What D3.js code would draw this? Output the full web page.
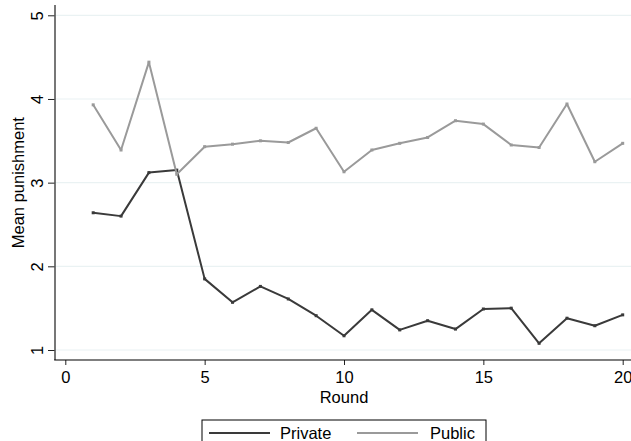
<!DOCTYPE html>
<html>
<head>
<meta charset="utf-8">
<script src="https://cdn.jsdelivr.net/npm/d3@7"></script>
<style>
  html, body { margin: 0; padding: 0; background: #fff; }
  svg { display: block; font-family: "Liberation Sans", Arial, Helvetica, sans-serif; }
</style>
</head>
<body>
<svg id="chart" width="631" height="441"></svg>
<script>
const rounds = [1,2,3,4,5,6,7,8,9,10,11,12,13,14,15,16,17,18,19,20];
const privateVals = [2.64,2.60,3.12,3.15,1.85,1.57,1.76,1.61,1.41,1.17,1.48,1.24,1.35,1.25,1.49,1.50,1.08,1.38,1.29,1.42];
const publicVals  = [3.93,3.39,4.44,3.10,3.43,3.46,3.50,3.48,3.65,3.13,3.39,3.47,3.54,3.74,3.70,3.45,3.42,3.94,3.25,3.47];
const xTicks = [0,5,10,15,20];
const yTicks = [1,2,3,4,5];
const seriesNames = ["Private","Public"];
const seriesColors = ["#3a3a3a","#9a9a9a"];

const svg = d3.select("#chart");
const W = 631, H = 441;
const axisX = 55, axisY = 360;
const FS = 16.5;

const x = d3.scaleLinear().domain([0,20]).range([65.3, 622.7]);
const y = d3.scaleLinear().domain([1,5]).range([350, 15.3]);

// gridlines
svg.append("g").selectAll("line").data(yTicks).join("line")
  .attr("x1", axisX).attr("x2", W)
  .attr("y1", d => y(d)).attr("y2", d => y(d))
  .attr("stroke", "#eaf2f3").attr("stroke-width", 1.2);

// y axis
const yAxis = d3.axisLeft(y).tickValues(yTicks).tickSize(7).tickFormat(d3.format("d"));
const gy = svg.append("g").attr("transform", `translate(${axisX},0)`).call(yAxis);
gy.select(".domain").remove();
gy.append("line").attr("x1",0).attr("x2",0).attr("y1",5).attr("y2",axisY)
  .attr("stroke","#555").attr("stroke-width",1.6);
gy.selectAll(".tick line").attr("stroke","#222").attr("stroke-width",1);
gy.selectAll(".tick text")
  .attr("font-size", FS).attr("fill","#000")
  .attr("text-anchor","middle")
  .attr("transform", "rotate(-90)")
  .attr("x", 0).attr("y", -12).attr("dy", 0);

// x axis
const xAxis = d3.axisBottom(x).tickValues(xTicks).tickSize(5).tickPadding(6).tickFormat(d3.format("d"));
const gx = svg.append("g").attr("transform", `translate(0,${axisY})`).call(xAxis);
gx.select(".domain").remove();
gx.append("line").attr("x1", axisX - 0.8).attr("x2", W).attr("y1",0).attr("y2",0)
  .attr("stroke","#000").attr("stroke-width",1.2);
gx.selectAll(".tick line").attr("stroke","#222").attr("stroke-width",1);
gx.selectAll(".tick text").attr("font-size", FS).attr("fill","#000");

// axis titles
svg.append("text").attr("x", (x(0)+x(20))/2).attr("y", 403)
  .attr("text-anchor","middle").attr("font-size",FS).attr("fill","#000").text("Round");
svg.append("text").attr("transform", `translate(24,${(y(1)+y(5))/2}) rotate(-90)`)
  .attr("text-anchor","middle").attr("font-size",FS).attr("fill","#000").text("Mean punishment");

// lines
const series = [privateVals, publicVals];
const line = d3.line().x((d,i) => x(rounds[i])).y(d => y(d));
series.forEach((vals, si) => {
  svg.append("path").datum(vals).attr("d", line)
    .attr("fill","none").attr("stroke", seriesColors[si]).attr("stroke-width", 2)
    .attr("stroke-linejoin","round");
  svg.append("g").selectAll("rect").data(vals).join("rect")
    .attr("x", (d,i) => x(rounds[i]) - 1.5).attr("y", d => y(d) - 1.5)
    .attr("width", 3).attr("height", 3).attr("fill", seriesColors[si]);
});

// legend
const lg = svg.append("g");
lg.append("rect").attr("x", 202).attr("y", 420).attr("width", 284).attr("height", 40)
  .attr("fill","#fff").attr("stroke","#000").attr("stroke-width",1);
const legItems = [{x0: 209, x1: 270, tx: 280}, {x0: 357, x1: 418, tx: 430}];
legItems.forEach((it, i) => {
  lg.append("line").attr("x1", it.x0).attr("x2", it.x1).attr("y1", 433).attr("y2", 433)
    .attr("stroke", seriesColors[i]).attr("stroke-width", 2.2);
  lg.append("text").attr("x", it.tx).attr("y", 439).attr("font-size",FS).attr("fill","#000").text(seriesNames[i]);
});
</script>
</body>
</html>
